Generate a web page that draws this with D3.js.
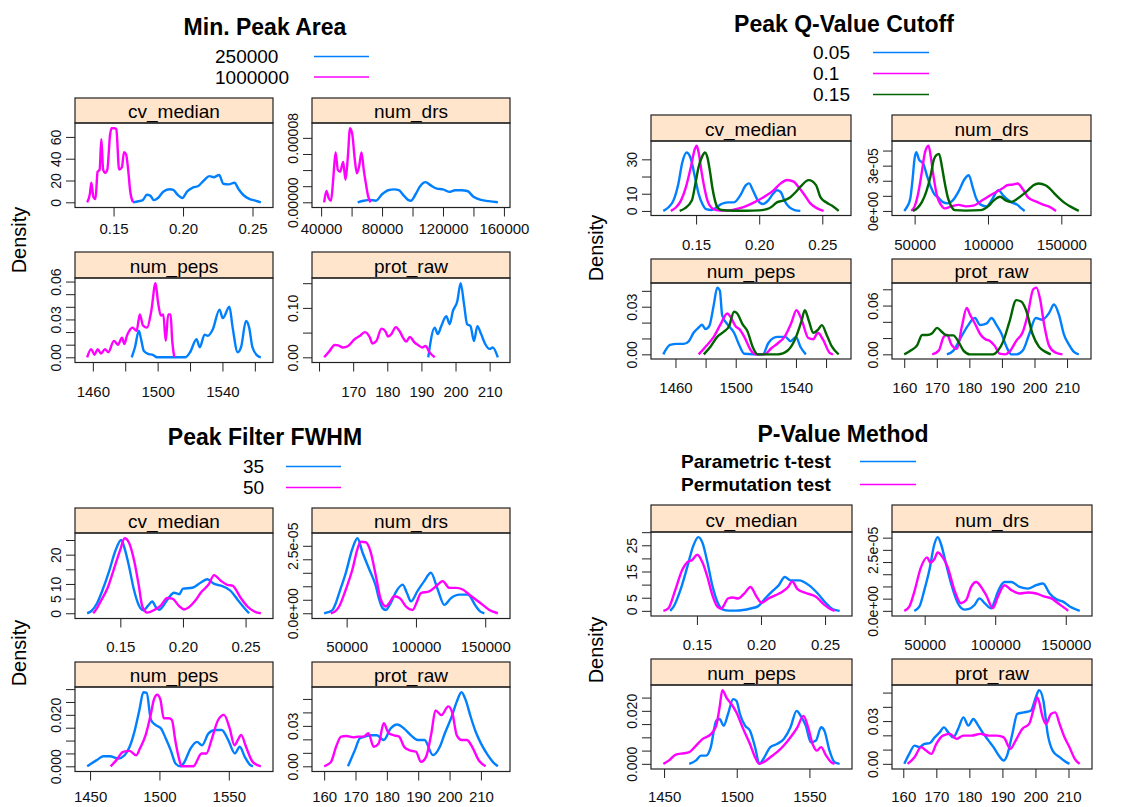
<!DOCTYPE html>
<html>
<head>
<meta charset="utf-8">
<script src="https://cdn.jsdelivr.net/npm/d3@7"></script>
<style>
  body { margin: 0; background: #fff; }
  svg { display: block; font-family: "Liberation Sans", Arial, sans-serif; }
</style>
</head>
<body>
<div id="chart"></div>
<script>
// ---- Min. Peak Area (250000 = blue, 1000000 = pink) ----
const areaCv250k = [[0.164,0],[0.168,1],[0.171,2],[0.174,7],[0.1765,6],[0.179,2],[0.182,4],[0.186,10],[0.1905,12],[0.193,11.5],[0.196,7],[0.1995,4],[0.203,10],[0.207,13.5],[0.211,15],[0.215,20],[0.219,24],[0.222,23],[0.226,25],[0.229,17],[0.233,16.5],[0.237,18],[0.240,12],[0.244,6],[0.248,3],[0.252,1.5],[0.256,0]];
const areaCv1m = [[0.131,0],[0.133,8],[0.134,18],[0.1355,5],[0.137,3],[0.1385,28],[0.140,30],[0.1412,58],[0.1425,30],[0.144,27],[0.1455,30],[0.1475,62],[0.1485,68],[0.151,68],[0.152,67],[0.154,30],[0.156,32],[0.1575,46],[0.159,44],[0.1605,30],[0.162,10],[0.164,0]];
const areaDrs250k = [[64000,0],[68000,2e-6],[72000,3e-6],[76000,2e-6],[80000,10e-6],[84000,15e-6],[88000,16e-6],[91000,15e-6],[94000,9e-6],[97000,3e-6],[99000,2e-6],[102000,10e-6],[105000,20e-6],[108500,25e-6],[112000,21e-6],[116000,17e-6],[120000,16e-6],[124000,13e-6],[128000,15e-6],[132000,15e-6],[136000,14e-6],[140000,7e-6],[145000,3e-6],[150000,1.5e-6],[156000,0]];
const areaDrs1m = [[42000,0],[43500,14e-6],[45000,5e-6],[46500,2e-6],[48000,30e-6],[49500,62e-6],[51000,40e-6],[52500,38e-6],[54500,50e-6],[56000,28e-6],[57500,55e-6],[59000,92e-6],[60500,84e-6],[62000,55e-6],[63500,36e-6],[65000,45e-6],[66500,62e-6],[68000,40e-6],[69500,22e-6],[70800,8e-6],[72500,0]];
const areaPeps250k = [[1484,0],[1486,0.008],[1488.4,0.021],[1490,0.013],[1491.5,0.005],[1494.5,0.0026],[1497,0.002],[1499.6,0],[1517,0],[1520,0.004],[1524,0.0143],[1526,0.008],[1529,0.018],[1531,0.017],[1534,0.022],[1538.2,0.0378],[1540.2,0.031],[1544.3,0.040],[1546.3,0.0235],[1549.4,0.004],[1551.5,0.008],[1554.5,0.0287],[1556.5,0.0235],[1558.5,0.008],[1561.6,0.0013],[1563.7,0]];
const areaPeps1m = [[1456.5,0],[1459,0.0065],[1461,0.002],[1463,0.0065],[1465,0.003],[1467.5,0.0065],[1469.5,0.004],[1473,0.013],[1475.5,0.010],[1478,0.0155],[1479.5,0.0105],[1481,0.017],[1482.5,0.021],[1484.5,0.0235],[1487,0.021],[1489,0.034],[1491,0.025],[1493.5,0.0235],[1496,0.036],[1498.7,0.0587],[1500.2,0.044],[1502,0.033],[1503.5,0.034],[1505,0.013],[1506.5,0.034],[1508,0.034],[1509,0.013],[1510.3,0]];
const areaProt250k = [[192,0],[193.9,0.06],[194.8,0.047],[195.8,0.063],[197.3,0.083],[198.3,0.067],[199.2,0.093],[200.5,0.113],[201.5,0.15],[202.5,0.107],[203.4,0.067],[204.4,0.063],[205.4,0.033],[206.4,0.063],[207.5,0.047],[208.7,0.027],[210,0.017],[210.9,0.02],[212.4,0]];
const areaProt1m = [[161.5,0],[163,0.012],[164.6,0.025],[165.6,0.024],[167,0.02],[168.5,0.023],[170.5,0.037],[171.9,0.043],[173.4,0.051],[174.9,0.04],[175.6,0.028],[176.8,0.033],[178.3,0.058],[179.5,0.052],[180.2,0.042],[181.2,0.047],[182.5,0.061],[183.6,0.053],[184.6,0.04],[185.6,0.032],[186.6,0.041],[188,0.03],[189,0.025],[190.2,0.02],[191.2,0.023],[192.4,0.01],[193.9,0]];

// ---- Peak Q-Value Cutoff (0.05 = blue, 0.1 = pink, 0.15 = green) ----
const qvalCv005 = [[0.124,0],[0.128,2],[0.132,6],[0.136,16],[0.139,28],[0.1425,34],[0.146,30],[0.149,20],[0.152,10],[0.155,4],[0.158,1],[0.162,0.5],[0.166,2],[0.170,4],[0.175,5],[0.180,5],[0.185,9],[0.1895,15],[0.192,16],[0.195,12],[0.199,6],[0.203,4],[0.207,6],[0.211,10],[0.214,12],[0.217,11],[0.220,6],[0.224,2],[0.228,0.5],[0.2326,0]];
const qvalCv01 = [[0.130,0],[0.134,2],[0.138,6],[0.142,14],[0.146,26],[0.149,36],[0.1505,38],[0.152,34],[0.1545,22],[0.157,12],[0.159,6],[0.162,2],[0.166,0.5],[0.172,0.2],[0.178,0.5],[0.184,1.5],[0.190,3],[0.196,5],[0.2035,8],[0.2114,12],[0.217,16],[0.222,18],[0.2273,17],[0.231,14],[0.2352,10],[0.2405,4.4],[0.246,1.5],[0.251,0]];
const qvalCv015 = [[0.137,0],[0.141,1.5],[0.1466,6],[0.149,14],[0.1518,25],[0.155,32],[0.157,34],[0.159,31],[0.161,23],[0.163,13],[0.165,6],[0.167,2],[0.170,0.5],[0.180,0.1],[0.190,0.1],[0.200,0.3],[0.206,1],[0.210,2.5],[0.214,5],[0.219,6],[0.2247,8],[0.229,11],[0.2326,14],[0.2392,17.9],[0.245,15],[0.2485,8],[0.253,5],[0.2578,3],[0.263,0]];
const qvalDrs005 = [[42900,0],[45000,0.3e-5],[47000,0.8e-5],[48500,2.0e-5],[50000,3.5e-5],[51140,3.89e-5],[53000,3.4e-5],[55900,3.13e-5],[58500,2.3e-5],[61000,1.6e-5],[63500,1.1e-5],[66000,0.9e-5],[69000,0.6e-5],[72600,0.5e-5],[76000,0.7e-5],[80000,1.3e-5],[84000,2.1e-5],[86900,2.36e-5],[89500,1.6e-5],[91700,0.9e-5],[95300,0.4e-5],[99000,0.3e-5],[103000,0.8e-5],[107100,1.38e-5],[110600,1.0e-5],[115400,0.6e-5],[120100,0.4e-5],[123000,0.15e-5],[125000,0]];
const qvalDrs01 = [[47700,0],[50000,0.3e-5],[52500,1.2e-5],[54740,2.47e-5],[57100,3.9e-5],[59500,4.33e-5],[61000,3.6e-5],[62600,2.47e-5],[65400,0.94e-5],[68000,0.4e-5],[70200,0.17e-5],[75000,0.3e-5],[80000,0.4e-5],[85000,0.3e-5],[90000,0.35e-5],[96400,0.72e-5],[101000,1.0e-5],[105900,1.27e-5],[110000,1.5e-5],[113000,1.7e-5],[117000,1.75e-5],[120200,1.82e-5],[124000,1.4e-5],[127300,0.9e-5],[133300,0.6e-5],[138000,0.4e-5],[141700,0.28e-5],[146400,0]];
const qvalDrs015 = [[48800,0],[52000,0.2e-5],[55000,0.6e-5],[58000,1.3e-5],[60700,2.25e-5],[63100,3.4e-5],[64800,3.7e-5],[66640,3.78e-5],[68500,3.0e-5],[70200,2.03e-5],[72600,0.9e-5],[75000,0.3e-5],[77300,0.05e-5],[85000,0.02e-5],[95000,0.05e-5],[100000,0.3e-5],[104000,0.7e-5],[108300,0.94e-5],[112000,0.7e-5],[116000,0.6e-5],[120000,0.8e-5],[124000,1.1e-5],[127400,1.38e-5],[131000,1.7e-5],[134500,1.82e-5],[139200,1.7e-5],[142000,1.5e-5],[145200,1.16e-5],[149000,0.8e-5],[152000,0.55e-5],[156000,0.3e-5],[161900,0]];
const qvalPeps005 = [[1451.9,0],[1456.4,0.0059],[1460.9,0.0066],[1465.4,0.0066],[1468.8,0.0082],[1472,0.0136],[1475.4,0.0169],[1477.6,0.0186],[1479.9,0.016],[1482.5,0.018],[1485.4,0.031],[1487.7,0.042],[1489.5,0.040],[1491,0.0246],[1494.4,0.019],[1498.9,0.0136],[1502.3,0.0059],[1505.7,0.0004],[1518,0],[1521.6,0.007],[1525,0.0103],[1528,0.011],[1533,0.011],[1536.4,0.0082],[1540,0.011],[1543,0.0046],[1546.6,0]];
const qvalPeps01 = [[1475.4,0],[1481,0.0059],[1485.4,0.011],[1490,0.019],[1494.4,0.0257],[1496.6,0.0235],[1500,0.0175],[1502.3,0.016],[1505.7,0.011],[1510,0.0026],[1513.4,0],[1519,0],[1523.5,0.0037],[1528,0.007],[1532.4,0.011],[1537,0.02],[1540.3,0.0278],[1543.7,0.022],[1548.2,0.0103],[1551.5,0.0095],[1554.5,0.0136],[1558,0.0092],[1562.4,0.0009],[1564.6,0]];
const qvalPeps015 = [[1478.8,0],[1483.2,0.0048],[1487.7,0.011],[1492.1,0.0143],[1495.5,0.0175],[1498.9,0.0268],[1501,0.0257],[1504.5,0.019],[1507.9,0.0143],[1511.2,0.0048],[1514.6,0],[1528,0],[1534.7,0.0026],[1539.2,0.009],[1543.7,0.021],[1545.9,0.0278],[1548.6,0.021],[1551.5,0.0136],[1554.9,0.0158],[1557.2,0.0184],[1560.5,0.012],[1563.9,0.0048],[1568.4,0]];
const qvalProt005 = [[173.1,0],[175.1,0.0046],[177.7,0.0229],[179.5,0.035],[181.7,0.0446],[183.3,0.036],[185.3,0.038],[186.8,0.0446],[188.3,0.0363],[189.9,0.025],[191.4,0.0092],[192.9,0],[194.5,0],[196.4,0.0046],[198.4,0.025],[200.4,0.0446],[202.4,0.0425],[204.5,0.051],[206,0.0613],[207.5,0.0488],[209,0.025],[210.5,0.0125],[212.1,0.003],[213.6,0]];
const qvalProt01 = [[168.6,0],[170.6,0.0046],[172.1,0.0213],[173.1,0.024],[174.6,0.0113],[176.2,0.0067],[177.7,0.0342],[179.2,0.057],[180.2,0.0488],[181.7,0.038],[183.3,0.025],[184.8,0.0188],[186.3,0.0165],[187.8,0.0104],[189.3,0.0008],[191,0],[192.3,0.003],[194.4,0.0165],[196.4,0.0275],[197.9,0.0483],[199.6,0.08],[200.6,0.082],[201.7,0.0683],[203,0.0358],[204.5,0.0104],[206.5,0.002],[208.6,0]];
const qvalProt015 = [[160,0],[162,0.0046],[164,0.0113],[165.5,0.0238],[167,0.0238],[168.6,0.026],[170.1,0.0325],[171.6,0.0275],[173.1,0.0233],[175.1,0.0233],[176.6,0.0158],[178.2,0.0046],[180.2,0],[187.3,0],[188.8,0.0046],[190.3,0.015],[192.3,0.04],[194.4,0.0667],[195.9,0.065],[197.4,0.0546],[199.4,0.025],[201.4,0.0092],[203.4,0.003],[205,0]];

// ---- Peak Filter FWHM (35 = blue, 50 = pink) ----
const fwhmCv35 = [[0.1235,0],[0.127,0.8],[0.1315,3.5],[0.1355,7.6],[0.1408,14],[0.1462,21.5],[0.1507,25],[0.1535,22],[0.1568,16.3],[0.1608,8.1],[0.165,2.5],[0.1685,1],[0.172,2.5],[0.1755,4],[0.1785,2],[0.181,1.2],[0.185,3],[0.189,5.5],[0.1928,7],[0.197,6.5],[0.200,8.4],[0.2075,8.7],[0.2143,10.5],[0.2195,11.6],[0.225,10],[0.2303,9.4],[0.2382,7.6],[0.2435,4.7],[0.249,1.8],[0.2528,0]];
const fwhmCv50 = [[0.1283,0],[0.131,1.5],[0.1342,4],[0.1398,8.6],[0.1448,15],[0.1502,22],[0.1534,25.6],[0.157,24],[0.161,18],[0.1648,9.3],[0.1675,2.4],[0.1715,0.2],[0.177,1.1],[0.182,2.5],[0.1875,5.2],[0.1915,5],[0.1968,2.5],[0.2008,1.3],[0.206,2.5],[0.2102,4.5],[0.2142,7],[0.2208,10],[0.2248,13],[0.2302,11.1],[0.2355,9.7],[0.2395,9.4],[0.2462,5.2],[0.2515,2.3],[0.257,0.6],[0.2622,0]];
const fwhmDrs35 = [[33770,0],[36800,0.4e-6],[39770,1.2e-6],[42000,3.5e-6],[44600,7.5e-6],[49400,15e-6],[54200,24e-6],[57800,27.8e-6],[61400,22.6e-6],[66300,16.3e-6],[71100,10e-6],[73500,5e-6],[75900,1.9e-6],[78300,1.2e-6],[81500,3.5e-6],[85700,8e-6],[90400,10.6e-6],[93500,7.5e-6],[96400,4.4e-6],[101200,8.3e-6],[106000,11.9e-6],[110800,15e-6],[115700,8.8e-6],[120500,3.1e-6],[125300,5.6e-6],[131400,6.9e-6],[137400,6.9e-6],[143400,2.5e-6],[146500,0.6e-6],[149400,0]];
const fwhmDrs50 = [[38540,0],[41500,0.6e-6],[44600,2.5e-6],[49400,8.8e-6],[54200,16.3e-6],[57800,23.8e-6],[60200,26.5e-6],[63800,26.3e-6],[67400,22.6e-6],[71100,13.8e-6],[74700,5e-6],[78300,2.5e-6],[81000,4e-6],[84400,6.3e-6],[88500,5.5e-6],[92800,2.5e-6],[97600,1.2e-6],[100500,4e-6],[103600,7.5e-6],[109600,8.1e-6],[114500,10e-6],[119300,11.9e-6],[124100,9.4e-6],[128900,9.4e-6],[133700,8.8e-6],[138500,6.9e-6],[143400,5e-6],[148200,3.1e-6],[153000,1.2e-6],[159100,0]];
const fwhmPeps35 = [[1447.9,0],[1454.8,0.0024],[1459.5,0.0039],[1464.3,0.0039],[1470.2,0.003],[1474.9,0.0043],[1478.5,0.0076],[1482,0.0135],[1485.6,0.022],[1488.4,0.0288],[1490.8,0.0285],[1493.9,0.018],[1497.4,0.016],[1501,0.0148],[1504.6,0.0108],[1508.1,0.0063],[1511.7,0.001],[1515.2,0],[1517.6,0.0013],[1522.4,0.0069],[1527.1,0.0095],[1530.7,0.0082],[1535.4,0.0128],[1540.2,0.0141],[1544.9,0.0141],[1549.6,0.0102],[1554.4,0.005],[1557.9,0.0076],[1561.5,0.0037],[1565.1,0.0007],[1567.4,0]];
const fwhmPeps50 = [[1464.8,0],[1469,0.0024],[1473.8,0.0056],[1478.5,0.006],[1483.3,0.0043],[1486,0.007],[1490.1,0.0122],[1493.7,0.02],[1496,0.0259],[1498.4,0.0278],[1500.7,0.0259],[1503.1,0.0187],[1506.7,0.0187],[1509,0.018],[1511.4,0.0102],[1513.8,0.0037],[1516.1,0],[1524.4,0],[1530.4,0.005],[1533.9,0.005],[1537.5,0.0102],[1542.3,0.018],[1546.5,0.02],[1550.6,0.0148],[1554.1,0.0082],[1556.5,0.0102],[1558.9,0.0122],[1562.4,0.0076],[1567.2,0.0017],[1573.1,0]];
const fwhmProt35 = [[167.6,0],[169.8,0.012],[171.4,0.0208],[173,0.022],[174.7,0.023],[176.8,0.023],[179,0.0195],[181.2,0.028],[183.3,0.031],[185.5,0.028],[187.7,0.023],[189.8,0.0195],[192,0.0195],[194.7,0.0083],[196.9,0.0145],[198.5,0.0245],[200.7,0.037],[202.3,0.048],[203.8,0.055],[205.1,0.0495],[206.7,0.037],[208.3,0.0258],[210,0.017],[212.2,0.0083],[213.8,0.0033],[215.4,0]];
const fwhmProt50 = [[160,0],[162.2,0.0033],[163.8,0.0145],[165.4,0.022],[167.1,0.0225],[169.3,0.0215],[170.9,0.022],[172.5,0.022],[174.1,0.0245],[175.8,0.0145],[177.4,0.017],[179,0.032],[180.6,0.0245],[182.3,0.023],[183.9,0.022],[185.5,0.0145],[187.1,0.012],[189.3,0.0108],[190.9,0.0033],[192.5,0.007],[194.2,0.0245],[195.5,0.0415],[197.4,0.038],[199.6,0.0445],[200.9,0.0395],[202.3,0.023],[203.9,0.0195],[205.5,0.0195],[207.2,0.0145],[209.3,0.0045],[211.5,0]];

// ---- P-Value Method (Parametric = blue, Permutation = pink) ----
const pvalCvParam = [[0.1291,0],[0.1318,1.6],[0.1371,7.9],[0.1424,16.6],[0.1471,24.7],[0.1511,28.1],[0.1543,26],[0.1582,18.5],[0.162,9.7],[0.166,3.4],[0.170,0.6],[0.175,0.1],[0.180,0.1],[0.186,0.3],[0.192,0.9],[0.1979,1.8],[0.2032,4.7],[0.2085,7.3],[0.2138,9.7],[0.2186,12.9],[0.2231,11.6],[0.2297,11.6],[0.2376,9.7],[0.2443,6.6],[0.2508,2.9],[0.2561,0.6],[0.2614,0]];
const pvalCvPerm = [[0.1238,0],[0.1278,1],[0.1331,7.9],[0.1384,15.5],[0.1424,18.5],[0.1463,19.4],[0.1503,21.4],[0.1543,18.5],[0.1582,12.9],[0.162,6.1],[0.166,1.6],[0.169,0.8],[0.1715,2.5],[0.1741,4.7],[0.178,5.1],[0.182,4.7],[0.1873,6.8],[0.1918,9.1],[0.1966,5.4],[0.2005,3.1],[0.2058,4.7],[0.2111,5.9],[0.2164,7.2],[0.2212,9.1],[0.2244,11.2],[0.2283,8.4],[0.235,6.8],[0.2429,5.4],[0.2495,2.3],[0.2548,0.5],[0.2575,0]];
const pvalDrsParam = [[42640,0],[46200,1.7e-6],[49750,8.5e-6],[53300,16.6e-6],[56860,27.3e-6],[59230,30.2e-6],[61600,27.3e-6],[65150,19.2e-6],[68700,11.2e-6],[73450,3.2e-6],[78200,0.5e-6],[81500,0.8e-6],[85300,2.4e-6],[88860,5.1e-6],[92400,3.2e-6],[97200,1.0e-6],[99500,4e-6],[101900,7.8e-6],[106600,11.8e-6],[111400,11.8e-6],[117300,9.8e-6],[123200,9.1e-6],[129100,10.5e-6],[133900,11.2e-6],[138600,7.1e-6],[143400,4.7e-6],[148100,3.8e-6],[152800,1.8e-6],[157600,0.5e-6],[159900,0]];
const pvalDrsPerm = [[35540,0],[39100,1.7e-6],[42640,7.8e-6],[47400,17.9e-6],[51700,21.9e-6],[54000,19.8e-6],[56860,21.2e-6],[59230,23.9e-6],[62800,21.9e-6],[66300,17.9e-6],[71100,8.5e-6],[75800,3.1e-6],[79400,4.4e-6],[82940,9.8e-6],[86500,11.8e-6],[90000,9.8e-6],[93600,6.4e-6],[98400,1.1e-6],[101900,5.8e-6],[106600,10.5e-6],[111400,8.5e-6],[117300,7.1e-6],[123200,7.5e-6],[129100,7.1e-6],[135100,5.8e-6],[139800,5.1e-6],[144500,3.1e-6],[149300,1.1e-6],[151700,0]];
const pvalPepsParam = [[1467.3,0],[1472,0.0013],[1475.4,0.0031],[1478.9,0.0031],[1482,0.006],[1485.9,0.0163],[1488.2,0.0169],[1491,0.0144],[1494,0.0188],[1497.5,0.0244],[1499.8,0.0238],[1502.2,0.0188],[1505.7,0.0144],[1509.1,0.0125],[1512.6,0.0063],[1515.6,0],[1518.4,0.0019],[1523.1,0.0063],[1527.7,0.0075],[1532.4,0.0094],[1537,0.0138],[1541.2,0.02],[1544,0.0181],[1547.5,0.0144],[1551,0.0081],[1554.5,0.0088],[1558,0.0138],[1560.3,0.0125],[1563.8,0.005],[1567.3,0.0006],[1570.8,0]];
const pvalPepsPerm = [[1449.5,0],[1453.4,0.0013],[1458,0.0035],[1463.8,0.004],[1467.3,0.0044],[1472,0.0069],[1476.6,0.0094],[1482.4,0.0113],[1485.9,0.0144],[1488.2,0.0213],[1490.1,0.0278],[1492.9,0.025],[1496.4,0.0225],[1499.8,0.0194],[1504.5,0.0131],[1509.1,0.0075],[1512.6,0.0025],[1515.4,0],[1518.4,0.0006],[1523.1,0.0025],[1527.7,0.0044],[1532.4,0.0069],[1537,0.01],[1541.7,0.0138],[1545.9,0.0181],[1549.1,0.0138],[1552.2,0.0075],[1555.2,0.005],[1558,0.0063],[1561.5,0.0031],[1565,0.0006],[1567.3,0]];
const pvalProtParam = [[160.3,0],[161.8,0.007],[163.4,0.0128],[164.9,0.0117],[166.4,0.014],[168,0.0145],[169.5,0.0186],[171,0.0221],[172.3,0.0256],[173.6,0.0221],[175.1,0.0186],[176.6,0.0245],[178.2,0.0326],[179.7,0.0268],[181.2,0.0315],[182.7,0.0268],[184.3,0.021],[185.8,0.0163],[187.3,0.0117],[188.9,0.0058],[190.4,0.0023],[191.4,0.0058],[193,0.021],[194.5,0.035],[196.5,0.0361],[198.6,0.0373],[200.1,0.0466],[201.1,0.0517],[202.4,0.0443],[203.7,0.021],[205.2,0.0093],[207.3,0.0047],[209.3,0.0012],[210.3,0]];
const pvalProtPerm = [[161.3,0],[163.4,0.0047],[165.4,0.0117],[166.9,0.0093],[168.5,0.007],[170,0.014],[172,0.0198],[174.1,0.021],[176.1,0.0175],[178.2,0.0198],[180.7,0.0198],[183.3,0.021],[185.8,0.0198],[188.4,0.0198],[190.4,0.0186],[192.4,0.0105],[194,0.0163],[196,0.0245],[198.1,0.028],[199.6,0.0396],[200.6,0.0466],[202.2,0.0326],[203.2,0.028],[204.7,0.035],[206,0.0361],[207.3,0.028],[208.8,0.0186],[210.3,0.0117],[211.9,0.0035],[213.4,0]];

// ---- panel names, legends, ticks ----
const panelNames = ["cv_median", "num_drs", "num_peps", "prot_raw"];

const areaLevels = ["250000", "1000000"];
const qvalLevels = ["0.05", "0.1", "0.15"];
const fwhmLevels = ["35", "50"];
const pvalLevels = ["Parametric t-test", "Permutation test"];

const areaXTicks = [[0.15,0.20,0.25],[40000,60000,80000,100000,120000,140000,160000],[1460,1480,1500,1520,1540,1560],[160,170,180,190,200,210]];
const areaXLabels = [["0.15","0.20","0.25"],["40000","","80000","","120000","","160000"],["1460","","1500","","1540",""],["","170","180","190","200","210"]];
const areaYTicks = [[0,20,40,60],[0,2e-5,4e-5,6e-5,8e-5,1e-4],[0,0.01,0.02,0.03,0.04,0.05,0.06],[0,0.05,0.10,0.15]];
const areaYLabels = [["0","20","40","60"],["0.00000","","","","0.00008",""],["0.00","","","0.03","","","0.06"],["0.00","","0.10",""]];

const qvalXTicks = [[0.15,0.20,0.25],[50000,100000,150000],[1460,1480,1500,1520,1540,1560],[160,170,180,190,200,210]];
const qvalXLabels = [["0.15","0.20","0.25"],["50000","100000","150000"],["1460","","1500","","1540",""],["160","170","180","190","200","210"]];
const qvalYTicks = [[0,10,20,30],[0,1e-5,2e-5,3e-5,4e-5],[0,0.01,0.02,0.03,0.04],[0,0.02,0.04,0.06,0.08]];
const qvalYLabels = [["0","10","","30"],["0e+00","","","3e-05",""],["0.00","","","0.03",""],["0.00","","","0.06",""]];

const fwhmXTicks = [[0.15,0.20,0.25],[50000,100000,150000],[1450,1500,1550],[160,170,180,190,200,210]];
const fwhmXLabels = [["0.15","0.20","0.25"],["50000","100000","150000"],["1450","1500","1550"],["160","170","180","190","200","210"]];
const fwhmYTicks = [[0,5,10,15,20,25],[0,5e-6,1e-5,1.5e-5,2e-5,2.5e-5,3e-5],[0,0.005,0.01,0.015,0.02,0.025,0.03],[0,0.01,0.02,0.03,0.04,0.05]];
const fwhmYLabels = [["0","5","10","","20",""],["0.0e+00","","","","","2.5e-05",""],["0.000","","","","0.020","",""],["0.00","","","0.03","",""]];

const pvalXTicks = fwhmXTicks;
const pvalXLabels = fwhmXLabels;
const pvalYTicks = [[0,5,10,15,20,25,30],[0,5e-6,1e-5,1.5e-5,2e-5,2.5e-5,3e-5],[0,0.005,0.01,0.015,0.02,0.025],[0,0.01,0.02,0.03,0.04,0.05]];
const pvalYLabels = [["0","5","","15","","25",""],["0.0e+00","","","","","2.5e-05",""],["0.000","","","","0.020",""],["0.00","","","0.03","",""]];

const blue = "#0080ff", pink = "#ff00ff", green = "#006400";

// ---- layouts (pixel positions only) ----
const areaLayout = {
  titleX: 265, titleY: 35, legendX: 215, legendLine: [314, 369], legendY: [56.5, 77],
  cols: [[75, 273], [312, 510]],
  rows: [{strip: 98, top: 123, bottom: 207.5, label: 234}, {strip: 252, top: 278, bottom: 362.5, label: 397}],
  ylabX: 26, ylabY: 240
};
const qvalLayout = {
  titleX: 844, titleY: 32, legendX: 813, legendLine: [873, 929], legendY: [52.5, 73.5, 94.5],
  cols: [[651, 851], [892, 1091]],
  rows: [{strip: 115, top: 141, bottom: 215.5, label: 249.5}, {strip: 259, top: 283, bottom: 359, label: 393}],
  ylabX: 603, ylabY: 248
};
const fwhmLayout = {
  titleX: 265, titleY: 445, legendX: 243, legendLine: [286, 341], legendY: [466.5, 487.5],
  cols: [[75, 273], [312, 510]],
  rows: [{strip: 508, top: 533, bottom: 618.5, label: 652}, {strip: 662, top: 687, bottom: 771.5, label: 802}],
  ylabX: 26, ylabY: 653
};
const pvalLayout = {
  titleX: 843, titleY: 442, legendX: 681, legendLine: [860, 916], legendY: [461.5, 484.5],
  cols: [[651, 852], [892, 1092]],
  rows: [{strip: 505, top: 532, bottom: 616, label: 650}, {strip: 659, top: 685, bottom: 769, label: 802}],
  ylabX: 603, ylabY: 650
};

const plots = [
  {title: "Min. Peak Area", levels: areaLevels, colors: [blue, pink], layout: areaLayout,
   series: [[areaCv250k, areaCv1m], [areaDrs250k, areaDrs1m], [areaPeps250k, areaPeps1m], [areaProt250k, areaProt1m]],
   xTicks: areaXTicks, xLabels: areaXLabels, yTicks: areaYTicks, yLabels: areaYLabels},
  {title: "Peak Q-Value Cutoff", levels: qvalLevels, colors: [blue, pink, green], layout: qvalLayout,
   series: [[qvalCv005, qvalCv01, qvalCv015], [qvalDrs005, qvalDrs01, qvalDrs015], [qvalPeps005, qvalPeps01, qvalPeps015], [qvalProt005, qvalProt01, qvalProt015]],
   xTicks: qvalXTicks, xLabels: qvalXLabels, yTicks: qvalYTicks, yLabels: qvalYLabels},
  {title: "Peak Filter FWHM", levels: fwhmLevels, colors: [blue, pink], layout: fwhmLayout,
   series: [[fwhmCv35, fwhmCv50], [fwhmDrs35, fwhmDrs50], [fwhmPeps35, fwhmPeps50], [fwhmProt35, fwhmProt50]],
   xTicks: fwhmXTicks, xLabels: fwhmXLabels, yTicks: fwhmYTicks, yLabels: fwhmYLabels},
  {title: "P-Value Method", levels: pvalLevels, colors: [blue, pink], layout: pvalLayout, boldLegend: true,
   series: [[pvalCvParam, pvalCvPerm], [pvalDrsParam, pvalDrsPerm], [pvalPepsParam, pvalPepsPerm], [pvalProtParam, pvalProtPerm]],
   xTicks: pvalXTicks, xLabels: pvalXLabels, yTicks: pvalYTicks, yLabels: pvalYLabels}
];

const tickLen = 9;
const svg = d3.select("#chart").append("svg")
  .attr("width", 1133)
  .attr("height", 807);

function drawPlot(p) {
  const L = p.layout;
  const g = svg.append("g");

  g.append("text")
    .attr("x", L.titleX).attr("y", L.titleY)
    .attr("text-anchor", "middle")
    .attr("font-weight", "bold")
    .attr("font-size", 23)
    .text(p.title);

  p.levels.forEach((name, i) => {
    const y = L.legendY[i];
    g.append("text")
      .attr("x", L.legendX).attr("y", y).attr("dy", "0.35em")
      .attr("font-size", 19)
      .attr("font-weight", p.boldLegend ? "bold" : "normal")
      .text(name);
    g.append("line")
      .attr("x1", L.legendLine[0]).attr("x2", L.legendLine[1])
      .attr("y1", y).attr("y2", y)
      .attr("stroke", p.colors[i])
      .attr("stroke-width", 1.6);
  });

  g.append("text")
    .attr("transform", `translate(${L.ylabX},${L.ylabY}) rotate(-90)`)
    .attr("text-anchor", "middle")
    .attr("font-size", 20)
    .text("Density");

  panelNames.forEach((name, i) => {
    const [x0, x1] = L.cols[i % 2];
    const row = L.rows[Math.floor(i / 2)];
    const all = p.series[i].flat();
    const [xmin, xmax] = d3.extent(all, d => d[0]);
    const ymax = d3.max(all, d => d[1]);
    const pad = 0.07 * (xmax - xmin);

    const xScale = d3.scaleLinear().domain([xmin - pad, xmax + pad]).range([x0, x1]);
    const yScale = d3.scaleLinear().domain([-0.07 * ymax, 1.07 * ymax]).range([row.bottom, row.top]);

    // strip
    g.append("rect")
      .attr("x", x0).attr("y", row.strip)
      .attr("width", x1 - x0).attr("height", row.top - row.strip)
      .attr("fill", "#ffe5cc")
      .attr("stroke", "#222").attr("stroke-width", 1.2);
    g.append("text")
      .attr("x", (x0 + x1) / 2).attr("y", row.top - 5)
      .attr("text-anchor", "middle")
      .attr("font-size", 19)
      .text(name);

    // curves
    const line = d3.line()
      .x(d => xScale(d[0]))
      .y(d => yScale(d[1]))
      .curve(d3.curveMonotoneX);
    p.series[i].forEach((s, k) => {
      g.append("path")
        .attr("d", line(s))
        .attr("fill", "none")
        .attr("stroke", p.colors[k])
        .attr("stroke-width", 2.4)
        .attr("stroke-linejoin", "round");
    });

    // panel box
    g.append("rect")
      .attr("x", x0).attr("y", row.top)
      .attr("width", x1 - x0).attr("height", row.bottom - row.top)
      .attr("fill", "none")
      .attr("stroke", "#222").attr("stroke-width", 1.2);

    // x axis
    const xt = p.xTicks[i], xl = p.xLabels[i];
    const xd = xScale.domain();
    const xAxis = d3.axisBottom(xScale)
      .tickValues(xt.filter(t => t >= xd[0] && t <= xd[1]))
      .tickFormat(d => xl[xt.indexOf(d)])
      .tickSize(tickLen);
    const gx = g.append("g")
      .attr("transform", `translate(0,${row.bottom})`)
      .call(xAxis);
    gx.select(".domain").remove();
    gx.attr("font-size", 15).attr("font-family", null);
    gx.selectAll("line").attr("stroke", "#222");
    gx.selectAll("text")
      .attr("fill", "#111")
      .attr("y", row.label - row.bottom)
      .attr("dy", null);

    // y axis, labels rotated as in lattice
    const yt = p.yTicks[i], yl = p.yLabels[i];
    const yd = yScale.domain();
    const yAxis = d3.axisLeft(yScale)
      .tickValues(yt.filter(t => t >= yd[0] && t <= yd[1]))
      .tickFormat(d => yl[yt.indexOf(d)])
      .tickSize(tickLen);
    const gy = g.append("g")
      .attr("transform", `translate(${x0},0)`)
      .call(yAxis);
    gy.select(".domain").remove();
    gy.attr("font-size", 14).attr("font-family", null);
    gy.selectAll("line").attr("stroke", "#222");
    gy.selectAll("text")
      .attr("fill", "#111")
      .attr("transform", "rotate(-90)")
      .attr("x", 0)
      .attr("y", -(tickLen + 5))
      .attr("dy", null)
      .attr("text-anchor", "middle");
  });
}

plots.forEach(drawPlot);
</script>
</body>
</html>
